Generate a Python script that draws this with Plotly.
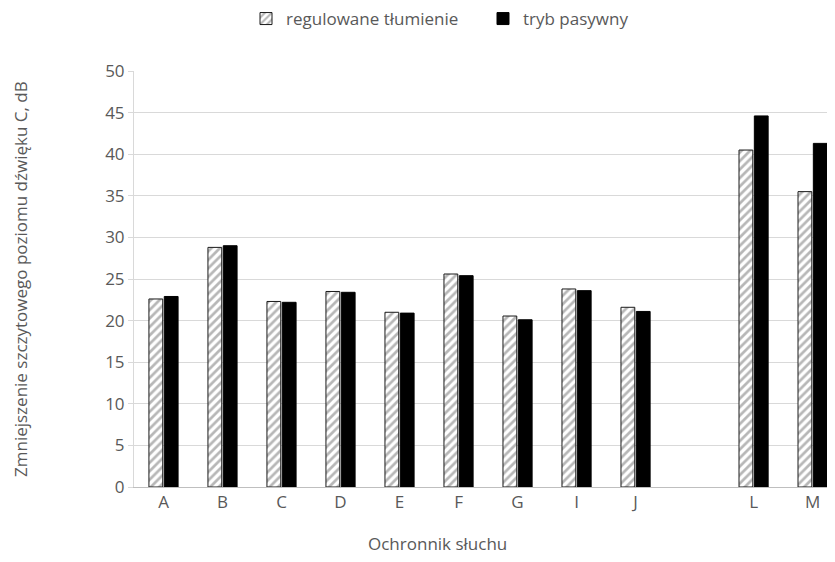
import plotly.graph_objects as go

categories = ["A", "B", "C", "D", "E", "F", "G", "I", "J", " ", "L", "M"]
regulowane = [22.6, 28.8, 22.3, 23.5, 21.0, 25.6, 20.55, 23.8, 21.6, None, 40.5, 35.5]
pasywny = [22.9, 29.0, 22.2, 23.4, 20.9, 25.4, 20.1, 23.6, 21.1, None, 44.6, 41.3]
y_ticks = [0, 5, 10, 15, 20, 25, 30, 35, 40, 45, 50]

font_family = "Open Sans, Lato, sans-serif"
gray_text = "#595959"
fs = 17

# the page body adds an 8px offset; compensate in the figure coordinates
off = 8
W, H = 835, 562
left, right, top, bottom = 134 - off, W - off, 71 - off, 487 - off
pw, ph = right - left, bottom - top

fig = go.Figure()
fig.add_trace(go.Bar(
    x=categories, y=regulowane, name="regulowane tłumienie",
    marker=dict(color="white", line=dict(color="#1a1a1a", width=1),
                pattern=dict(shape="/", fgcolor="#6f6f6f", bgcolor="white", size=6, solidity=0.45)),
))
fig.add_trace(go.Bar(
    x=categories, y=pasywny, name="tryb pasywny",
    marker=dict(color="black", line=dict(color="black", width=1)),
))

fig.update_layout(
    width=W, height=H,
    margin=dict(l=left, r=W - right, t=top, b=H - bottom, autoexpand=False),
    paper_bgcolor="white", plot_bgcolor="white",
    barmode="group", bargap=0.48, bargroupgap=0.1,
    font=dict(family=font_family, size=fs, color=gray_text),
    showlegend=True,
    legend=dict(orientation="h", xref="container", yref="container",
                x=(246 - off) / W, xanchor="left", y=1 - (19 - off) / H, yanchor="middle",
                font=dict(size=fs, color=gray_text), itemwidth=30, traceorder="normal",
                entrywidth=192, entrywidthmode="pixels"),
    annotations=[
        dict(text="Ochronnik słuchu", xref="paper", yref="paper",
             x=(437 - off - left) / pw, y=-(543 - 487) / ph, xanchor="center", yanchor="middle",
             showarrow=False, font=dict(size=fs, color=gray_text)),
        dict(text="Zmniejszenie szczytowego poziomu dźwięku C, dB", xref="paper", yref="paper",
             x=(20 - off - left) / pw, y=(487 - 279) / ph, xanchor="center", yanchor="middle",
             textangle=-90, showarrow=False, font=dict(size=fs, color=gray_text)),
    ],
)
fig.update_xaxes(
    type="category", categoryorder="array", categoryarray=categories,
    range=[-0.5, 11.38], automargin=False,
    showgrid=False, showline=True, linecolor="#bfbfbf", linewidth=1,
    ticks="", tickfont=dict(size=fs, color=gray_text),
)
fig.update_yaxes(
    range=[0, 50], tickvals=y_ticks, automargin=False,
    showgrid=True, gridcolor="#d9d9d9", gridwidth=1,
    showline=True, linecolor="#d9d9d9", linewidth=1,
    ticks="outside", ticklen=5, tickcolor="#d9d9d9",
    tickfont=dict(size=fs, color=gray_text),
    zeroline=False,
)

fig.write_html("out.html")
